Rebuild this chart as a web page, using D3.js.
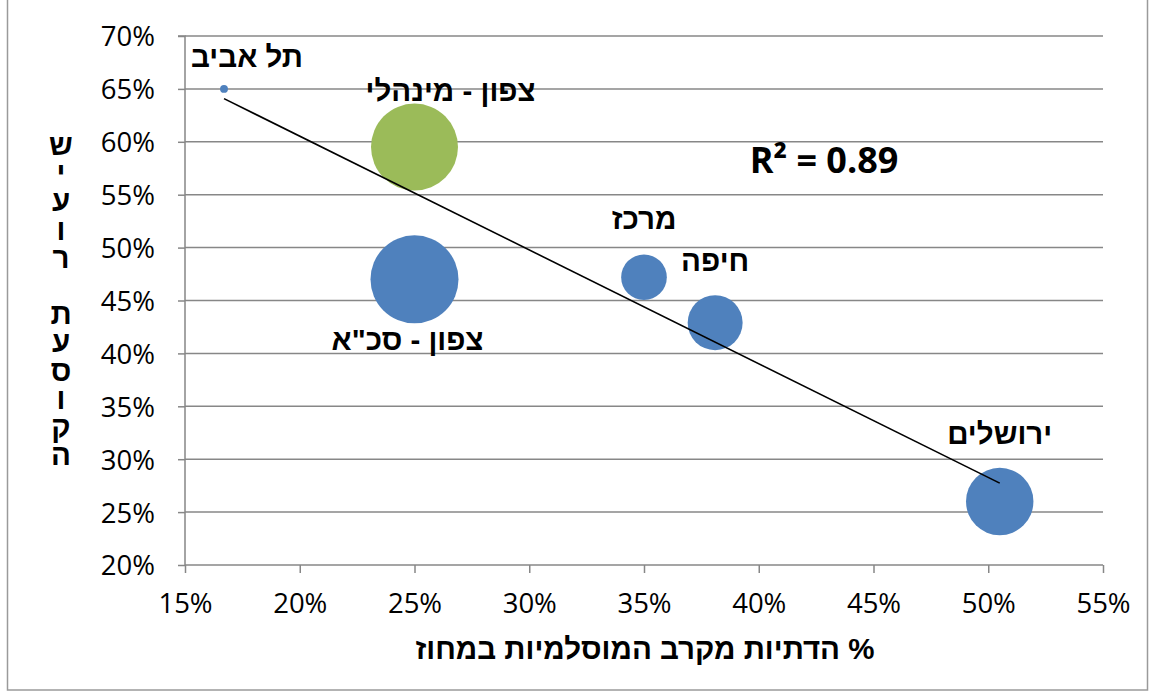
<!DOCTYPE html>
<html><head><meta charset="utf-8">
<script src="https://cdn.jsdelivr.net/npm/d3@7"></script>
<style>body{margin:0;background:#fff}svg{display:block}</style>
</head><body>
<svg id="c" width="1153" height="697"></svg>
<script>
// ---- data ----
const regions = ["תל אביב", "צפון - מינהלי", "צפון - סכ\"א", "מרכז", "חיפה", "ירושלים"];
const religiousShare = [0.167, 0.25, 0.25, 0.35, 0.381, 0.505];   // x
const employmentRate = [0.65, 0.595, 0.47, 0.472, 0.429, 0.26];   // y
const bubbleSize = [0.8, 97.7, 100, 26.9, 39, 58.7];
const bubbleGroup = ["b", "g", "b", "b", "b", "b"];
const xTicks = [0.15, 0.20, 0.25, 0.30, 0.35, 0.40, 0.45, 0.50, 0.55];
const yTicks = [0.20, 0.25, 0.30, 0.35, 0.40, 0.45, 0.50, 0.55, 0.60, 0.65, 0.70];
const xTitle = "% הדתיות מקרב המוסלמיות במחוז";
const yTitle = "שיעור תעסוקה";
const r2Label = "R² = 0.89";

// ---- layout ----
const svg = d3.select("#c");
const x = d3.scaleLinear().domain([0.15, 0.55]).range([185, 1103]);
const y = d3.scaleLinear().domain([0.20, 0.70]).range([565, 36]);
const r = d3.scaleSqrt().domain([0, 100]).range([0, 44]);
const color = d3.scaleOrdinal().domain(["b", "g"]).range(["#4f81bd", "#9bbb59"]);
const gridCol = "#878787";
const tickFont = "'Open Sans', 'Liberation Sans', sans-serif";
const heb = "'Liberation Sans', Arial, sans-serif";
const hebSize = 29.5;

// outer border
svg.append("rect").attr("x", 7.5).attr("y", -1).attr("width", 1140).attr("height", 691)
  .attr("fill", "none").attr("stroke", "#9a9a9a").attr("stroke-width", 1.5);

// gridlines
svg.append("g").selectAll("line").data(yTicks.filter(d => d > 0.2)).join("line")
  .attr("x1", x(0.15)).attr("x2", x(0.55)).attr("y1", d => y(d)).attr("y2", d => y(d))
  .attr("stroke", gridCol).attr("stroke-width", 1.5);

// y axis
const yAxis = d3.axisLeft(y).tickValues(yTicks).tickFormat(d3.format(".0%")).tickSize(7).tickPadding(23);
const gy = svg.append("g").attr("transform", `translate(${x(0.15)},0)`).call(yAxis);
gy.select(".domain").attr("stroke", gridCol).attr("stroke-width", 1.5).attr("d", `M-7,${y(0.7)}H0V${y(0.2)}`);
gy.selectAll(".tick line").attr("stroke", gridCol).attr("stroke-width", 1.5);
gy.selectAll(".tick text").attr("font-family", tickFont).attr("font-size", 27.5).attr("fill", "#000").attr("dy", "0.36em");

// x axis
const xAxis = d3.axisBottom(x).tickValues(xTicks).tickFormat(d3.format(".0%")).tickSize(8).tickPadding(20);
const gx = svg.append("g").attr("transform", `translate(0,${y(0.2)})`).call(xAxis);
gx.select(".domain").attr("stroke", gridCol).attr("stroke-width", 1.5).attr("d", `M${x(0.15)},0H${x(0.55)}`);
gx.selectAll(".tick line").attr("stroke", gridCol).attr("stroke-width", 1.5);
gx.selectAll(".tick text").attr("font-family", tickFont).attr("font-size", 27.5).attr("fill", "#000");

// bubbles (largest first)
const pts = regions.map((name, i) => ({name, x: religiousShare[i], y: employmentRate[i], s: bubbleSize[i], g: bubbleGroup[i]}));
svg.append("g").selectAll("circle").data(pts.slice().sort((a, b) => b.s - a.s)).join("circle")
  .attr("cx", d => x(d.x)).attr("cy", d => y(d.y)).attr("r", d => Math.max(3.5, r(d.s)))
  .attr("fill", d => color(d.g));

// linear trendline
const mx = d3.mean(religiousShare), my = d3.mean(employmentRate);
const sxy = d3.sum(religiousShare, (v, i) => (v - mx) * (employmentRate[i] - my));
const sxx = d3.sum(religiousShare, v => (v - mx) ** 2);
const slope = sxy / sxx, icpt = my - slope * mx;
const [x0, x1] = d3.extent(religiousShare);
svg.append("line").attr("x1", x(x0)).attr("y1", y(icpt + slope * x0))
  .attr("x2", x(x1)).attr("y2", y(icpt + slope * x1))
  .attr("stroke", "#000").attr("stroke-width", 1.6);

// labels: offsets relative to bubble centre
const labelOffsets = [[23, -22], [36, -46], [-7, 71], [0, -48], [0, -52], [0, -58]];
svg.append("g").selectAll("text").data(pts).join("text")
  .attr("x", (d, i) => x(d.x) + labelOffsets[i][0])
  .attr("y", (d, i) => y(d.y) + labelOffsets[i][1])
  .attr("text-anchor", "middle").attr("direction", "rtl")
  .attr("font-family", heb).attr("font-weight", "bold").attr("font-size", hebSize)
  .text(d => d.name);

// R² label
svg.append("text").attr("x", 824).attr("y", 173).attr("text-anchor", "middle")
  .attr("font-family", tickFont).attr("font-weight", "bold").attr("font-size", 36).text(r2Label);

// x title
svg.append("text").attr("x", 645).attr("y", 659).attr("text-anchor", "middle").attr("direction", "rtl")
  .attr("font-family", heb).attr("font-weight", "bold").attr("font-size", hebSize).text(xTitle);

// y title: single text, letters stacked upright, top to bottom in reading order
svg.append("text").attr("x", 61).attr("y", 128)
  .attr("direction", "ltr")
  .style("writing-mode", "vertical-rl").style("text-orientation", "upright")
  .style("unicode-bidi", "bidi-override").style("direction", "ltr")
  .style("letter-spacing", "-4.8px")
  .attr("font-family", heb).attr("font-weight", "bold").attr("font-size", hebSize)
  .text(yTitle);
</script>
</body></html>
